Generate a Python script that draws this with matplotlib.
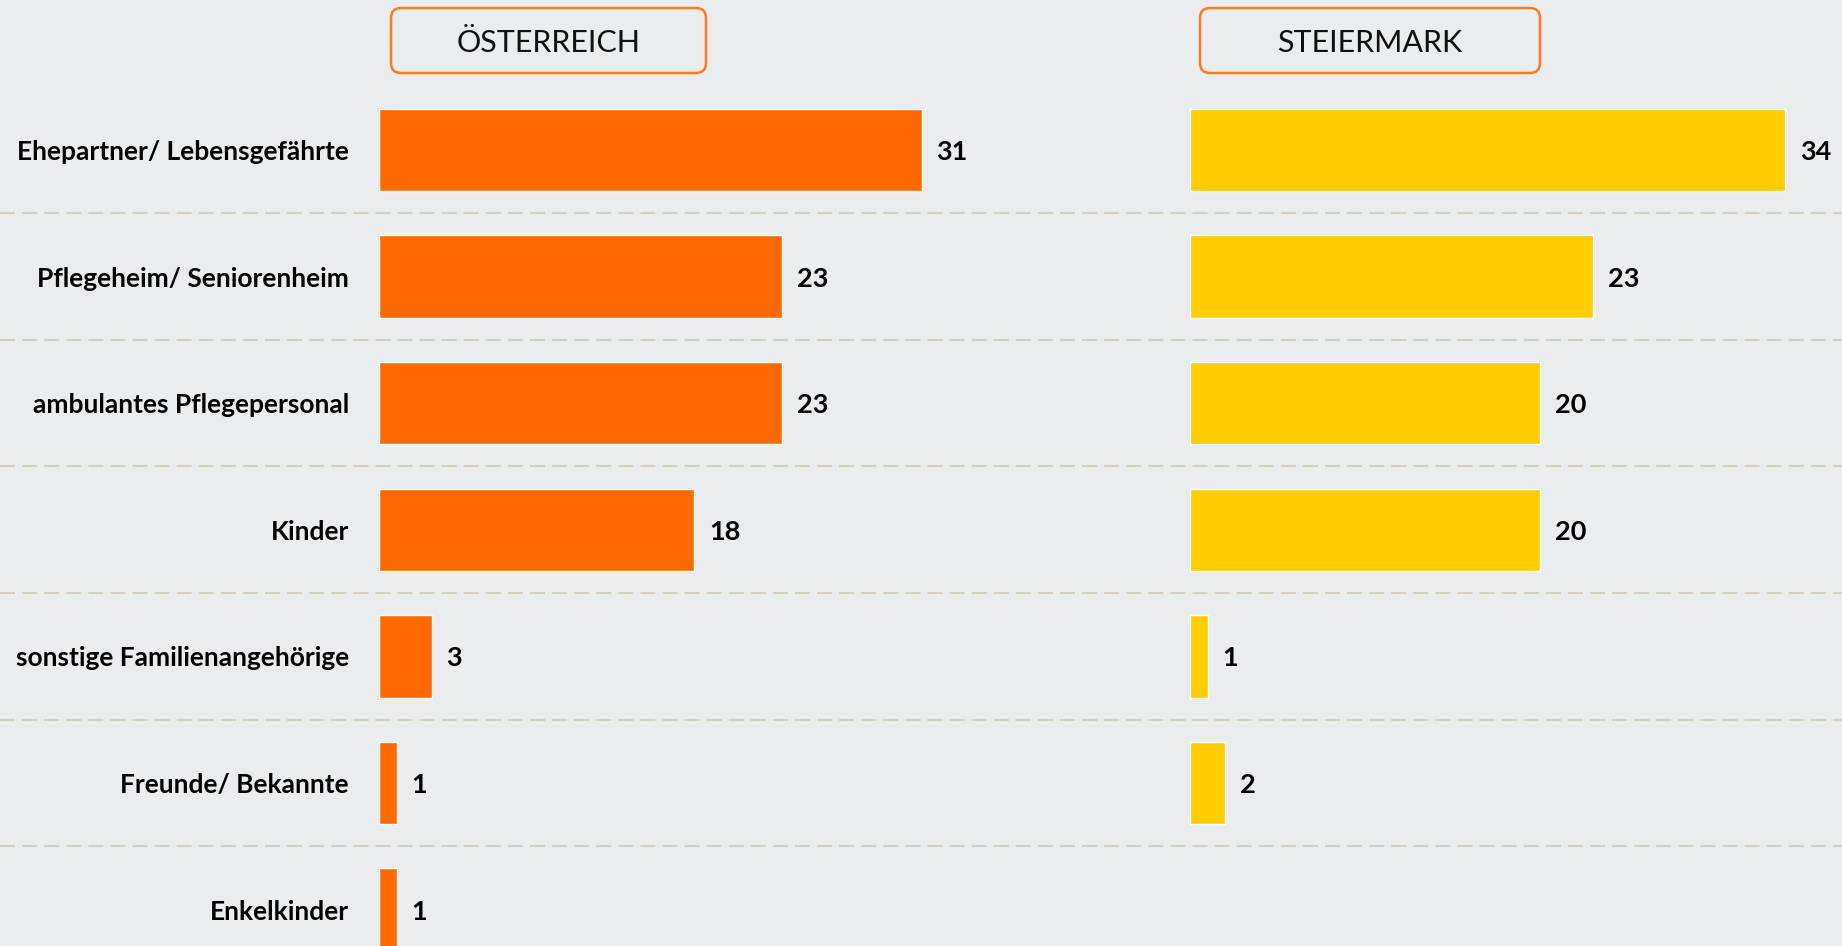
import matplotlib
matplotlib.use("Agg")
import matplotlib.pyplot as plt
from matplotlib.patches import FancyBboxPatch

categories = [
    "Ehepartner/ Lebensgefährte",
    "Pflegeheim/ Seniorenheim",
    "ambulantes Pflegepersonal",
    "Kinder",
    "sonstige Familienangehörige",
    "Freunde/ Bekannte",
    "Enkelkinder",
]
oesterreich = [31, 23, 23, 18, 3, 1, 1]
steiermark = [34, 23, 20, 20, 1, 2, None]
headers = ["ÖSTERREICH", "STEIERMARK"]

BG = "#e9edee"
ORANGE = "#ff6a00"
YELLOW = "#ffcc00"
DASH = "#d5cfc3"
LABEL_FONT = ["Lato", "DejaVu Sans"]

W, H = 1842, 946
fig = plt.figure(figsize=(W / 100, H / 100), dpi=100, facecolor=BG)

# rows: first centre 150 px from top, pitch 126.6 px
row_top, pitch = 150, 126.6
ylim = ((H - row_top) / pitch, -row_top / pitch)
px_per_unit = 17.5

bg = fig.add_axes([0, 0, 1, 1], zorder=0)
bg.set_facecolor(BG)
bg.set_xlim(0, 1)
bg.set_ylim(*ylim)
for i in range(len(categories) - 1):
    bg.axhline(i + 0.5, color=DASH, lw=1.5, linestyle=(0, (7.2, 3.4)))
bg.axis("off")


def panel(left_px, width_px, values, color, with_labels):
    ax = fig.add_axes([left_px / W, 0, width_px / W, 1], zorder=1)
    ax.set_facecolor("none")
    ax.set_xlim(0, width_px / px_per_unit)
    ax.set_ylim(*ylim)
    for s in ax.spines.values():
        s.set_visible(False)
    ax.set_xticks([])
    ys = [i for i, v in enumerate(values) if v is not None]
    vs = [v for v in values if v is not None]
    ax.barh(ys, vs, height=0.65, color=color, edgecolor="white", linewidth=1)
    for y, v in zip(ys, vs):
        ax.text(v + 0.86, y, str(v), va="center_baseline", ha="left",
                fontsize=19.5, fontweight="bold", family=LABEL_FONT, color="black")
    if with_labels:
        ax.set_yticks(range(len(categories)))
        ax.set_yticklabels(categories, fontsize=19, fontweight="bold", family=LABEL_FONT)
        ax.tick_params(axis="y", length=0, pad=21.6)
    else:
        ax.set_yticks([])
    return ax


panel(379, 621, oesterreich, ORANGE, True)
panel(1190, 652, steiermark, YELLOW, False)

# header boxes (inches)
for (x0, x1), title in zip([(3.91, 7.06), (12.00, 15.40)], headers):
    box = FancyBboxPatch((x0, 8.73), x1 - x0, 0.65,
                         boxstyle="round,pad=0,rounding_size=0.1",
                         transform=fig.dpi_scale_trans, fc="none",
                         ec="#ff7a1a", lw=1.8, zorder=5)
    fig.patches.append(box)
    fig.text((x0 + x1) / 2, 9.03, title, transform=fig.dpi_scale_trans,
             ha="center", va="center", fontsize=22, family="Lato",
             fontweight="normal", color="#111111")

fig.savefig("out.png", dpi=100, facecolor=BG)
